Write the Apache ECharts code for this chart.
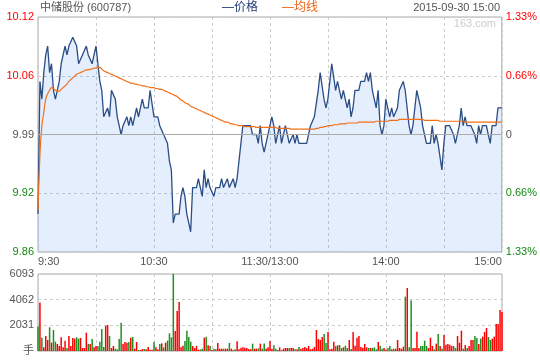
<!DOCTYPE html>
<html><head><meta charset="utf-8">
<script src="https://cdn.jsdelivr.net/npm/echarts@6/dist/echarts.min.js"></script>
<style>html,body{margin:0;padding:0;background:#fff}#c{width:540px;height:360px}</style>
</head><body><div id="c"></div>
<script>
const prevClose = 9.99;
const pctStep = 0.665;
const xTickIdx = [0, 60, 120, 180, 240];
const xTickText = ['9:30', '10:30', '11:30/13:00', '14:00', '15:00'];
const leftTicks = ['9.86', '9.92', '9.99', '10.06', '10.12'];
const rightTicks = ['1.33%', '0.66%', '0', '0.66%', '1.33%'];
const volTicks = ['手', '2031', '4062', '6093'];
const volMax = 6093;

const price = [
9.90,10.05,10.03,10.06,10.08,10.09,10.06,10.07,10.04,10.03,
10.03,10.05,10.07,10.08,10.09,10.08,10.09,10.09,10.10,10.10,
10.09,10.07,10.07,10.08,10.08,10.09,10.08,10.08,10.07,10.08,
10.09,10.07,10.05,10.04,10.01,10.01,10.02,10.01,10.04,10.04,
10.03,10.01,10.00,9.99,10.00,10.00,10.01,10.00,10.01,10.00,
10.01,10.02,10.01,10.02,10.03,10.02,10.02,10.02,10.04,10.04,
10.01,10.01,10.01,10.00,10.00,9.99,9.99,9.98,9.96,9.95,
9.89,9.90,9.90,9.90,9.92,9.93,9.92,9.90,9.89,9.88,
9.93,9.93,9.93,9.94,9.93,9.92,9.95,9.93,9.94,9.93,
9.93,9.92,9.93,9.93,9.93,9.94,9.93,9.93,9.94,9.93,
9.93,9.94,9.93,9.94,9.94,9.98,10.00,10.00,10.00,10.00,
10.00,9.99,9.99,9.99,9.98,10.00,9.98,9.97,9.98,9.98,
10.00,
10.01,10.00,9.98,9.99,10.00,9.98,9.99,10.00,10.00,9.98,
9.98,9.99,9.98,9.99,9.98,9.98,9.98,9.98,9.98,9.99,
10.00,10.00,10.01,10.01,10.04,10.06,10.06,10.03,10.02,10.03,
10.03,10.07,10.07,10.04,10.05,10.04,10.03,10.04,10.03,10.02,
10.03,10.01,10.02,10.04,10.04,10.04,10.05,10.05,10.05,10.06,
10.05,10.06,10.04,10.03,10.02,10.04,10.00,9.99,10.00,10.03,
10.02,10.01,10.02,10.01,10.01,10.02,10.04,10.04,10.05,10.04,
10.04,10.00,9.99,10.00,10.00,10.04,10.04,10.02,10.00,9.99,
9.98,9.98,9.98,10.00,9.98,9.99,9.98,9.98,9.95,9.98,
10.00,10.00,10.00,10.00,9.99,9.98,9.98,10.00,10.02,10.00,
10.01,10.00,10.00,10.00,10.00,9.99,9.98,10.00,9.99,10.00,
10.00,10.00,9.99,9.98,10.00,10.00,10.00,10.02,10.02,10.02
];

const avgPrice = [
9.904,9.967,10.000,10.015,10.030,10.036,10.040,10.043,10.042,10.040,
10.039,10.039,10.041,10.043,10.045,10.047,10.050,10.052,10.054,10.056,
10.058,10.059,10.060,10.061,10.062,10.063,10.063,10.064,10.064,10.065,
10.065,10.066,10.066,10.064,10.062,10.061,10.060,10.059,10.058,10.057,
10.056,10.055,10.054,10.053,10.052,10.051,10.050,10.049,10.048,10.048,
10.047,10.047,10.046,10.046,10.045,10.045,10.044,10.044,10.043,10.043,
10.043,10.042,10.042,10.041,10.041,10.040,10.039,10.038,10.037,10.036,
10.035,10.034,10.033,10.031,10.029,10.028,10.026,10.025,10.024,10.022,
10.021,10.020,10.019,10.018,10.017,10.016,10.015,10.014,10.013,10.012,
10.011,10.010,10.009,10.008,10.007,10.006,10.005,10.004,10.004,10.003,
10.002,10.002,10.001,10.001,10.000,10.000,10.000,9.999,9.999,9.999,
9.999,9.999,9.999,9.998,9.998,9.998,9.998,9.998,9.998,9.998,
9.998,
9.998,9.998,9.998,9.997,9.997,9.997,9.997,9.997,9.997,9.997,
9.996,9.996,9.996,9.996,9.996,9.996,9.996,9.996,9.996,9.996,
9.996,9.996,9.996,9.997,9.997,9.998,9.998,9.999,9.999,10.000,
10.000,10.000,10.001,10.001,10.001,10.002,10.002,10.002,10.002,10.003,
10.003,10.003,10.003,10.003,10.003,10.004,10.004,10.004,10.004,10.004,
10.004,10.004,10.004,10.004,10.005,10.005,10.005,10.005,10.005,10.005,
10.005,10.006,10.006,10.006,10.006,10.006,10.007,10.007,10.007,10.007,
10.007,10.007,10.007,10.007,10.007,10.007,10.007,10.007,10.007,10.006,
10.006,10.006,10.006,10.006,10.006,10.006,10.006,10.005,10.005,10.005,
10.005,10.005,10.005,10.005,10.005,10.005,10.005,10.005,10.005,10.005,
10.004,10.004,10.004,10.004,10.004,10.004,10.004,10.004,10.004,10.004,
10.004,10.004,10.004,10.004,10.004,10.004,10.004,10.004,10.004,10.004
];

const volume = [
1930,3830,1056,290,1190,870,1875,660,1660,740,
554,396,1082,290,818,237,1188,396,1030,977,
1082,977,1030,237,237,1452,554,554,950,290,
396,396,740,1742,317,1980,2060,1188,237,396,
185,132,950,2244,554,713,660,713,1056,1109,
185,713,79,79,158,158,132,317,105,105,
713,290,132,554,607,290,660,818,1400,1082,
6093,1584,3168,3880,290,422,792,1610,1109,740,
396,237,396,105,132,185,1056,1135,449,396,
79,185,132,634,185,185,185,185,185,634,
185,79,132,766,132,264,290,264,237,150,
150,580,185,185,211,580,185,600,200,300,
792,185,449,185,79,290,79,185,237,237,
237,237,237,132,132,317,185,237,317,237,
396,132,185,317,1663,950,871,1109,1346,634,
1505,132,185,740,396,449,475,237,290,422,
237,870,158,1505,422,1056,1188,317,264,554,
290,237,237,237,290,132,713,396,185,237,
105,237,396,132,185,185,871,237,185,343,
4300,4990,290,3990,237,237,1531,237,396,396,
818,396,237,1056,396,132,580,1346,396,185,
1267,501,554,501,396,396,237,1188,660,1610,
185,475,237,396,871,871,1188,1030,554,977,
1135,1505,1822,1109,871,977,1135,2138,2138,3247,
3089
];

const categories = price.map((_, i) => String(i));
const toUnit = p => (p - prevClose) / prevClose * 100 / pctStep;
const priceUnits = price.map(toUnit);
const avgUnits = avgPrice.map(toUnit);
const UP = '#ff0000', DOWN = '#1f8f1f', GREY = '#555';
const volData = volume.map((v, i) => {
  const ref = i === 0 ? prevClose : price[i - 1];
  return { value: v, itemStyle: { color: price[i] >= ref ? UP : DOWN } };
});
const tickColor = v => { const k = Math.round(v); return k > 0 ? UP : (k < 0 ? '#118811' : GREY); };
const FONT = "'Liberation Sans', Arial, 'Noto Sans CJK SC', sans-serif";

const chart = echarts.init(document.getElementById('c'), null, { renderer: 'canvas' });
const xCommon = {
  type: 'category', data: categories, boundaryGap: false,
  axisLine: { show: false }, axisTick: { show: false },
  splitLine: { show: true, interval: i => i % 30 === 0, lineStyle: { color: '#cccccc', type: [3, 3], width: 1 } }
};
chart.setOption({
  animation: false,
  textStyle: { fontFamily: FONT },
  grid: [
    { left: 38, right: 38, top: 17, height: 235, show: true, borderColor: '#aaaaaa', borderWidth: 1, containLabel: false },
    { left: 38, right: 38, top: 274, height: 77, show: true, borderColor: '#aaaaaa', borderWidth: 1, containLabel: false }
  ],
  xAxis: [
    Object.assign({}, xCommon, { gridIndex: 0,
      axisLabel: { show: true, interval: i => xTickIdx.includes(i), formatter: (v, i) => xTickText[xTickIdx.indexOf(Number(v))] || '',
        color: GREY, fontSize: 11, fontFamily: FONT, margin: 4, alignMinLabel: 'left', alignMaxLabel: 'right', showMinLabel: true, showMaxLabel: true } }),
    Object.assign({}, xCommon, { gridIndex: 1, axisLabel: { show: false } })
  ],
  yAxis: [
    { type: 'value', gridIndex: 0, min: -2, max: 2, interval: 1, position: 'left',
      axisLine: { show: false }, axisTick: { show: false },
      axisLabel: { formatter: v => leftTicks[Math.round(v) + 2], color: tickColor, fontSize: 11, fontFamily: FONT, margin: 4 },
      splitLine: { show: true, lineStyle: { color: '#cccccc', type: [3, 3], width: 1 } } },
    { type: 'value', gridIndex: 0, min: -2, max: 2, interval: 1, position: 'right',
      axisLine: { show: false }, axisTick: { show: false },
      axisLabel: { formatter: v => rightTicks[Math.round(v) + 2], color: tickColor, fontSize: 11, fontFamily: FONT, margin: 4 },
      splitLine: { show: false } },
    { type: 'value', gridIndex: 1, min: 0, max: volMax, interval: volMax / 3, position: 'left',
      axisLine: { show: false }, axisTick: { show: false },
      axisLabel: { formatter: v => volTicks[Math.round(v / (volMax / 3))], color: GREY, fontSize: 11, fontFamily: FONT, margin: 4 },
      splitLine: { show: true, lineStyle: { color: '#cccccc', type: [3, 3], width: 1 } } }
  ],
  series: [
    { name: '价格', type: 'line', xAxisIndex: 0, yAxisIndex: 0, data: priceUnits, symbol: 'none', smooth: false,
      lineStyle: { color: '#2a4d86', width: 1.3 },
      areaStyle: { color: 'rgba(80,140,235,0.21)', origin: 'start' },
      markLine: { silent: true, symbol: 'none', label: { show: false }, animation: false,
        lineStyle: { color: '#aaaaaa', type: 'solid', width: 1 }, data: [{ yAxis: 0 }] } },
    { name: '均线', type: 'line', xAxisIndex: 0, yAxisIndex: 0, data: avgUnits, symbol: 'none', smooth: true,
      lineStyle: { color: '#f0701a', width: 1.2 } },
    { name: '成交量', type: 'bar', xAxisIndex: 1, yAxisIndex: 2, data: volData, barWidth: 1.5 }
  ],
  graphic: [
    { type: 'text', left: 40, top: 2, style: { text: '中储股份 (600787)', fill: GREY, font: '11px ' + FONT } },
    { type: 'text', left: 222, top: 2, style: { text: '—价格', fill: '#1f3c78', font: '12px ' + FONT } },
    { type: 'text', left: 282, top: 2, style: { text: '—均线', fill: '#f06010', font: '12px ' + FONT } },
    { type: 'text', right: 40, top: 2, style: { text: '2015-09-30 15:00', fill: GREY, font: '11px ' + FONT } },
    { type: 'text', right: 44, top: 18, style: { text: '163.com', fill: '#cccccc', font: '11px ' + FONT } }
  ]
});
</script></body></html>
